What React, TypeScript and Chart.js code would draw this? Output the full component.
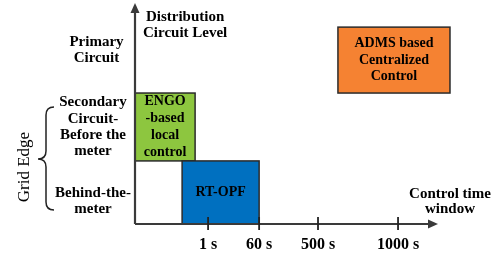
import React, { useEffect, useRef } from "react";
import { Chart, registerables } from "chart.js";

Chart.register(...registerables);

// ---- data ----
const xTickValues = [24.2, 41.1, 60.6, 87.1];
const xTickLabels = ["1 s", "60 s", "500 s", "1000 s"];

const boxLabels = [
  ["ENGO", "-based", "local", "control"],
  ["RT-OPF"],
  ["ADMS based", "Centralized", "Control"],
];
const boxX0 = [0, 15.6, 67.2];
const boxX1 = [19.9, 41.1, 104.3];
const boxY0 = [28.8, 0, 59.8];
const boxY1 = [59.8, 28.8, 89.9];

const rowLabels = [
  ["Primary", "Circuit"],
  ["Secondary", "Circuit-", "Before the", "meter"],
  ["Behind-the-", "meter"],
];
const rowValues = [79.5, 44.3, 10.5];

const yAxisTitle = ["Distribution", "Circuit Level"];
const xAxisTitle = ["Control time", "window"];
const groupLabel = "Grid Edge";

// ---- styles / layout ----
const boxColors = ["#8DC63F", "#0070C0", "#F58232"];
const rowLabelX = [96.5, 93, 93];
const SERIF = "'Liberation Serif', 'Times New Roman', serif";

const diagramPlugin = {
  id: "diagram",
  afterDraw(chart: any) {
    const ctx = chart.ctx as CanvasRenderingContext2D;
    const xs = chart.scales.x;
    const ys = chart.scales.y;
    const area = chart.chartArea;
    ctx.save();

    const drawLines = (lines: string[], cx: number, cy: number, lh: number) => {
      const n = lines.length;
      lines.forEach((t, i) => {
        ctx.fillText(t, cx, cy + (i - (n - 1) / 2) * lh);
      });
    };

    // boxes
    for (let i = 0; i < boxLabels.length; i++) {
      const l = xs.getPixelForValue(boxX0[i]);
      const r = xs.getPixelForValue(boxX1[i]);
      const t = ys.getPixelForValue(boxY1[i]);
      const b = ys.getPixelForValue(boxY0[i]);
      ctx.fillStyle = boxColors[i];
      ctx.fillRect(l, t, r - l, b - t);
      ctx.strokeStyle = "#2b2b2b";
      ctx.lineWidth = 1.5;
      ctx.strokeRect(l, t, r - l, b - t);
      ctx.fillStyle = "#000";
      ctx.font = `bold 14px ${SERIF}`;
      ctx.textAlign = "center";
      ctx.textBaseline = "middle";
      drawLines(boxLabels[i], (l + r) / 2, (t + b) / 2, 16.8);
    }

    // axes
    const ox = area.left;
    const oy = area.bottom;
    ctx.strokeStyle = "#3a3a3a";
    ctx.fillStyle = "#3a3a3a";
    ctx.lineWidth = 2.2;
    ctx.beginPath();
    ctx.moveTo(ox, oy);
    ctx.lineTo(ox, area.top + 6);
    ctx.moveTo(ox, oy);
    ctx.lineTo(area.right - 6, oy);
    ctx.stroke();
    // arrow heads
    ctx.beginPath();
    ctx.moveTo(ox, area.top - 2);
    ctx.lineTo(ox - 4.5, area.top + 8);
    ctx.lineTo(ox + 4.5, area.top + 8);
    ctx.closePath();
    ctx.fill();
    ctx.beginPath();
    ctx.moveTo(area.right + 1, oy);
    ctx.lineTo(area.right - 9, oy - 4.5);
    ctx.lineTo(area.right - 9, oy + 4.5);
    ctx.closePath();
    ctx.fill();
    // tick marks
    ctx.lineWidth = 1.8;
    ctx.strokeStyle = "#222";
    ctx.beginPath();
    xTickValues.forEach((v) => {
      const px = xs.getPixelForValue(v);
      ctx.moveTo(px, oy - 7);
      ctx.lineTo(px, oy + 6);
    });
    ctx.stroke();

    // titles
    ctx.fillStyle = "#000";
    ctx.font = `bold 15px ${SERIF}`;
    ctx.textAlign = "center";
    ctx.textBaseline = "middle";
    drawLines(yAxisTitle, xs.getPixelForValue(16.6), ys.getPixelForValue(90.9), 16.5);
    drawLines(xAxisTitle, xs.getPixelForValue(104.3), ys.getPixelForValue(10.3), 15.5);

    // row labels
    rowLabels.forEach((lines, i) => {
      drawLines(lines, rowLabelX[i], ys.getPixelForValue(rowValues[i]), 16.3);
    });

    // brace
    ctx.strokeStyle = "#222";
    ctx.lineWidth = 1.5;
    ctx.beginPath();
    ctx.moveTo(54, 107);
    ctx.quadraticCurveTo(46, 107, 46, 115);
    ctx.lineTo(46, 151);
    ctx.quadraticCurveTo(46, 159, 38, 159);
    ctx.quadraticCurveTo(46, 159, 46, 167);
    ctx.lineTo(46, 202);
    ctx.quadraticCurveTo(46, 210, 54, 210);
    ctx.stroke();

    // group label (rotated)
    ctx.save();
    ctx.translate(25, 167);
    ctx.rotate(-Math.PI / 2);
    ctx.font = `17px ${SERIF}`;
    ctx.fillStyle = "#000";
    ctx.fillText(groupLabel, 0, 0);
    ctx.restore();

    ctx.restore();
  },
};

export default function App() {
  const ref = useRef<HTMLCanvasElement | null>(null);
  useEffect(() => {
    document.body.style.margin = "0";
    const chart = new Chart(ref.current as HTMLCanvasElement, {
      type: "scatter",
      data: { datasets: [{ data: [] }] },
      options: {
        animation: false,
        responsive: false,
        devicePixelRatio: 1,
        layout: { padding: { left: 135, right: 62, top: 5, bottom: 0 } },
        plugins: { legend: { display: false }, tooltip: { enabled: false } },
        scales: {
          x: {
            type: "linear",
            min: 0,
            max: 100,
            grid: { display: false },
            border: { display: false },
            afterBuildTicks: (s: any) => {
              s.ticks = xTickValues.map((v) => ({ value: v }));
            },
            afterFit: (s: any) => {
              s.height = 30;
            },
            ticks: {
              autoSkip: false,
              maxRotation: 0,
              padding: 3,
              color: "#000",
              font: { family: SERIF, size: 16, weight: "bold" },
              callback: (_v: any, i: number) => xTickLabels[i],
            },
          },
          y: { type: "linear", min: 0, max: 100, display: false },
        },
      },
      plugins: [diagramPlugin],
    } as any);
    return () => chart.destroy();
  }, []);
  return (
    <div style={{ width: 499, height: 254 }}>
      <canvas ref={ref} width={499} height={254} style={{ display: "block" }} />
    </div>
  );
}
